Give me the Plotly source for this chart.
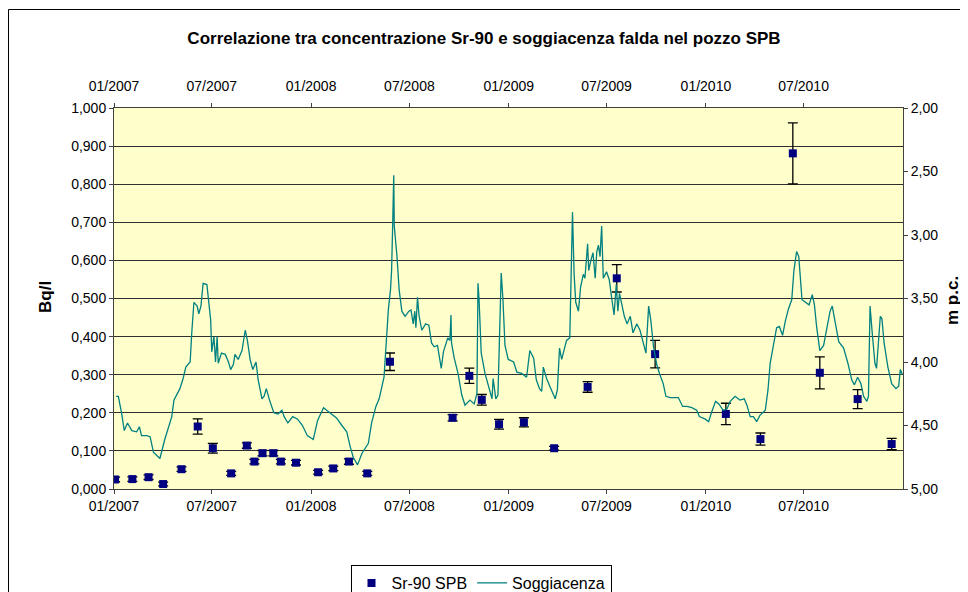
import pandas as pd
import plotly.graph_objects as go

# ---- Sr-90 SPB (Bq/l) ----
sr_dates = ["2007-01-03", "2007-02-04", "2007-03-06", "2007-04-02", "2007-05-06",
            "2007-06-05", "2007-07-03", "2007-08-06", "2007-09-04", "2007-09-18",
            "2007-10-03", "2007-10-23", "2007-11-06", "2007-12-04", "2008-01-14",
            "2008-02-11", "2008-03-11", "2008-04-14", "2008-05-26", "2008-09-19",
            "2008-10-20", "2008-11-12", "2008-12-14", "2009-01-29", "2009-03-26",
            "2009-05-27", "2009-07-20", "2009-09-29", "2010-02-07", "2010-04-12",
            "2010-06-11", "2010-07-31", "2010-10-09", "2010-12-11"]
sr_values = [0.025, 0.026, 0.031, 0.013, 0.052, 0.164, 0.107, 0.041, 0.114, 0.072,
             0.094, 0.094, 0.072, 0.069, 0.044, 0.054, 0.072, 0.041, 0.334, 0.187,
             0.297, 0.234, 0.170, 0.175, 0.107, 0.268, 0.553, 0.354, 0.197, 0.131,
             0.881, 0.305, 0.236, 0.118]
sr_errors = [0.006, 0.006, 0.006, 0.005, 0.006, 0.020, 0.013, 0.005, 0.007, 0.006,
             0.007, 0.007, 0.006, 0.006, 0.005, 0.006, 0.007, 0.005, 0.023, 0.008,
             0.020, 0.014, 0.013, 0.012, 0.005, 0.014, 0.036, 0.036, 0.028, 0.016,
             0.080, 0.042, 0.025, 0.015]

# ---- Soggiacenza (m p.c.), days since 2007-01-01 ----
sogg_day = [4, 8, 14, 19, 25, 33, 42, 47, 51, 61, 67, 73, 85, 94, 107, 111, 122, 128, 133, 141,
            144, 148, 154, 157, 161, 164, 165, 172, 175, 179, 181, 185, 188, 191, 193, 199, 206, 212, 216, 221,
            224, 230, 237, 243, 247, 252, 257, 263, 267, 274, 278, 282, 288, 296, 304, 311, 315, 322, 331, 340,
            349, 358, 369, 377, 388, 400, 412, 422, 431, 437, 443, 451, 459, 471, 477, 485, 491, 500, 505, 508,
            512, 514, 516, 518, 519, 524, 528, 533, 539, 546, 550, 554, 557, 559, 562, 565, 570, 577, 583, 588,
            593, 599, 606, 610, 618, 622, 624, 625, 630, 637, 644, 650, 659, 667, 672, 674, 676, 680, 687, 696,
            700, 702, 707, 711, 715, 717, 720, 724, 730, 740, 746, 755, 764, 770, 777, 782, 788, 792, 795, 801,
            807, 817, 821, 825, 829, 835, 838, 844, 847, 849, 852, 855, 860, 864, 869, 872, 877, 879, 883, 887,
            891, 894, 897, 900, 903, 906, 912, 917, 922, 926, 930, 933, 936, 940, 945, 950, 956, 961, 968, 974,
            979, 985, 990, 994, 999, 1005, 1010, 1017, 1022, 1030, 1045, 1053, 1061, 1070, 1079, 1084, 1095, 1101, 1107, 1114,
            1120, 1128, 1135, 1141, 1150, 1159, 1167, 1172, 1178, 1184, 1190, 1196, 1206, 1211, 1215, 1221, 1227, 1232, 1238, 1243,
            1249, 1255, 1259, 1264, 1268, 1274, 1280, 1287, 1293, 1297, 1301, 1307, 1314, 1320, 1326, 1330, 1335, 1342, 1351, 1359,
            1366, 1371, 1377, 1383, 1388, 1394, 1397, 1400, 1404, 1409, 1412, 1419, 1422, 1426, 1433, 1440, 1448, 1453, 1456, 1460]
sogg_m = [4.27, 4.27, 4.40, 4.54, 4.48, 4.54, 4.55, 4.51, 4.58, 4.58, 4.59, 4.71, 4.76, 4.61, 4.43, 4.30, 4.21, 4.13, 4.04, 4.00,
          3.77, 3.53, 3.56, 3.62, 3.56, 3.45, 3.38, 3.39, 3.49, 3.67, 3.92, 3.80, 4.00, 3.80, 4.01, 3.93, 3.94, 4.00, 4.06, 4.02,
          3.94, 3.98, 3.91, 3.75, 3.83, 3.98, 4.06, 4.00, 4.14, 4.29, 4.27, 4.21, 4.30, 4.40, 4.41, 4.38, 4.43, 4.48, 4.43, 4.45,
          4.50, 4.58, 4.61, 4.46, 4.36, 4.40, 4.44, 4.50, 4.55, 4.66, 4.75, 4.81, 4.72, 4.64, 4.48, 4.35, 4.29, 4.12, 3.81, 3.59,
          3.43, 3.28, 2.93, 2.53, 2.93, 3.17, 3.43, 3.60, 3.64, 3.60, 3.59, 3.70, 3.60, 3.73, 3.49, 3.64, 3.75, 3.70, 3.71, 3.85,
          3.88, 3.87, 4.05, 3.92, 3.81, 3.83, 3.63, 3.85, 3.97, 4.09, 4.26, 4.34, 4.30, 4.33, 4.25, 3.38, 3.51, 3.93, 4.09, 4.22,
          4.29, 4.13, 4.29, 4.26, 3.67, 3.30, 3.49, 3.87, 3.98, 4.00, 4.08, 4.09, 4.12, 3.91, 3.97, 4.14, 4.21, 4.23, 4.04, 4.13,
          4.19, 4.29, 4.22, 3.89, 3.98, 3.87, 3.83, 3.81, 3.33, 2.82, 3.31, 3.53, 3.60, 3.41, 3.31, 3.34, 3.07, 3.28, 3.20, 3.14,
          3.34, 3.13, 3.08, 3.17, 2.93, 3.34, 3.29, 3.35, 3.51, 3.63, 3.39, 3.60, 3.46, 3.55, 3.64, 3.70, 3.64, 3.77, 3.70, 3.75,
          3.83, 3.93, 3.56, 3.67, 3.88, 4.02, 4.09, 4.17, 4.27, 4.28, 4.28, 4.35, 4.35, 4.36, 4.38, 4.43, 4.45, 4.47, 4.39, 4.31,
          4.33, 4.38, 4.37, 4.31, 4.27, 4.30, 4.29, 4.34, 4.43, 4.43, 4.47, 4.42, 4.38, 4.22, 4.01, 3.88, 3.73, 3.72, 3.79, 3.68,
          3.58, 3.51, 3.28, 3.13, 3.17, 3.51, 3.53, 3.55, 3.47, 3.55, 3.72, 3.91, 3.87, 3.73, 3.60, 3.56, 3.68, 3.84, 3.89, 4.01,
          4.14, 4.18, 4.12, 4.17, 4.27, 4.31, 4.27, 3.56, 3.77, 4.01, 4.05, 3.64, 3.66, 3.85, 4.04, 4.17, 4.21, 4.19, 4.06, 4.10]

left_ticks = [i / 10 for i in range(11)]
right_ticks = [2.0, 2.5, 3.0, 3.5, 4.0, 4.5, 5.0]
tick_dates = ["2007-01-01", "2007-07-01", "2008-01-01", "2008-07-01", "2009-01-01",
              "2009-07-01", "2010-01-01", "2010-07-01"]

sogg_dates = pd.to_datetime("2007-01-01") + pd.to_timedelta(sogg_day, unit="D")

FONT = "Liberation Sans, Arial, sans-serif"
X_RANGE = ["2007-01-01", "2011-01-01"]

# page is offset by the 8px body margin: figure = page - 8
W, H = 960, 584
PL, PR, PT, PB = 114 - 8, 903 - 8, 108 - 8, 489 - 8   # plot box in figure px
PW, PH = PR - PL, PB - PT


def px(xf):
    return (xf - 8 - PL) / PW


def py(yf):
    return (PB - (yf - 8)) / PH


fig = go.Figure()
fig.add_trace(go.Scatter(
    x=sr_dates, y=sr_values, mode="markers", name="Sr-90 SPB",
    marker=dict(symbol="square", size=8, color="#000080", line=dict(width=0)),
    error_y=dict(type="data", array=sr_errors, visible=True, color="#000000",
                 thickness=1.3, width=5),
    xaxis="x", yaxis="y",
))
fig.add_trace(go.Scatter(
    x=sogg_dates, y=sogg_m, mode="lines", name="Soggiacenza",
    line=dict(color="#008080", width=1.3),
    xaxis="x2", yaxis="y2",
))

axis_common = dict(showline=True, linecolor="#404040", linewidth=1, ticks="outside",
                   ticklen=4, tickcolor="#404040", tickfont=dict(family=FONT, size=14, color="#000"))

fig.update_layout(
    width=W, height=H,
    margin=dict(l=PL, r=W - PR, t=PT, b=H - PB, autoexpand=False),
    paper_bgcolor="#ffffff", plot_bgcolor="#ffffcc",
    separators=",.",
    font=dict(family=FONT, size=14, color="#000"),
    title=dict(text="<b>Correlazione tra concentrazione Sr-90 e soggiacenza falda nel pozzo SPB</b>",
               x=(484 - 8) / W, xref="container", xanchor="center", y=1 - (38 - 8) / H, yanchor="middle",
               font=dict(family=FONT, size=17, color="#000")),
    xaxis=dict(type="date", range=X_RANGE, tickvals=tick_dates, tickformat="%m/%Y",
               showgrid=False, zeroline=False, **axis_common),
    xaxis2=dict(type="date", range=X_RANGE, tickvals=tick_dates, tickformat="%m/%Y",
                overlaying="x", side="top", showgrid=False, zeroline=False,
                ticklabelstandoff=6, **axis_common),
    yaxis=dict(range=[0, 1], tickvals=left_ticks, tickformat=".3f", showgrid=True,
               gridcolor="#303030", gridwidth=1, zeroline=False, **axis_common),
    yaxis2=dict(range=[5, 2], tickvals=right_ticks, tickformat=".2f", overlaying="y", side="right",
                showgrid=False, zeroline=False, **axis_common),
    showlegend=True,
    legend=dict(orientation="h", x=px(481), xanchor="center",
                y=py(565), yanchor="top", bordercolor="#000", borderwidth=1,
                bgcolor="#fff", font=dict(family=FONT, size=16, color="#000"),
                tracegroupgap=0),
    annotations=[
        dict(text="<b>Bq/l</b>", xref="paper", yref="paper", x=px(45), y=py(297),
             xanchor="center", yanchor="middle", textangle=-90, showarrow=False,
             font=dict(family=FONT, size=17, color="#000")),
        dict(text="<b>m p.c.</b>", xref="paper", yref="paper", x=px(952), y=py(300),
             xanchor="center", yanchor="middle", textangle=-90, showarrow=False,
             font=dict(family=FONT, size=17, color="#000")),
    ],
    shapes=[
        dict(type="rect", xref="paper", yref="paper",
             x0=px(8.5), x1=px(967.5),
             y0=py(620), y1=py(9.5),
             line=dict(color="#000", width=1), fillcolor="rgba(0,0,0,0)", layer="below"),
    ],
)

fig.write_html("out.html")
